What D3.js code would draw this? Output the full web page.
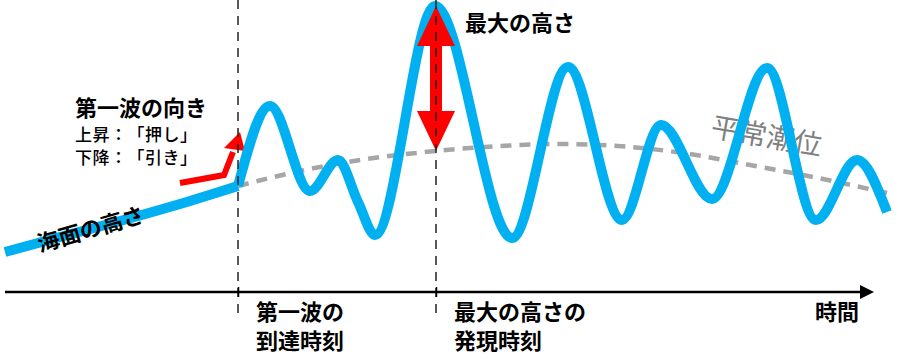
<!DOCTYPE html>
<html><head><meta charset="utf-8">
<script src="https://cdn.jsdelivr.net/npm/d3@7"></script>
<style>
html,body{margin:0;padding:0;background:#fff;}
svg{display:block;font-family:"Noto Sans CJK JP","Noto Sans",sans-serif;text-spacing-trim:space-all;}
</style></head>
<body><svg id="c" width="899" height="361"></svg>
<script>
// time (horizontal units) and sea-level height (units above the time axis)
const leadTime  = [5, 60, 120, 180, 238];
const leadLevel = [40, 55, 71, 88, 106];
const waveTime  = [238, 270, 310, 338, 358, 375, 435, 512, 568, 622, 661, 712, 767, 816, 857, 887];
const waveLevel = [106, 186, 101, 132, 90, 57, 286, 54, 225, 72, 167, 93, 224, 72, 132, 80];
const tideTime  = [238, 300, 360, 436, 500, 560, 600, 683, 750, 813, 887];
const tideLevel = [106, 121, 132, 141, 146, 148, 147, 139, 127, 115, 99];
const eventTimes = [238, 436];
const eventLabels = [["第一波の", "到達時刻"], ["最大の高さの", "発現時刻"]];
const axisLabel = "時間";
const maxLabel = "最大の高さ";
const seaLabel = "海面の高さ";
const tideLabel = "平常潮位";
const dirTitle = "第一波の向き";
const dirLines = ["上昇：「押し」", "下降：「引き」"];
const maxHeight = 286, tideAtMax = 141;

const svg = d3.select("#c");
const x = d3.scaleLinear().domain([0, 899]).range([0, 899]);
const y = d3.scaleLinear().domain([0, 292]).range([292, 0]);

const blue = "#00b0f0", red = "#ff0000";
const lineGen = d3.line().x(d => x(d[0])).y(d => y(d[1]));

// tide (dashed gray)
svg.append("path")
  .attr("d", lineGen.curve(d3.curveMonotoneX)(d3.zip(tideTime, tideLevel)))
  .attr("fill", "none").attr("stroke", "#a6a6a6").attr("stroke-width", 4.5)
  .attr("stroke-dasharray", "11,8");

svg.append("text").text(tideLabel)
  .attr("transform", `translate(${x(765)},${y(146)}) rotate(10)`)
  .attr("text-anchor", "middle").attr("font-size", 28).attr("fill", "#808080");

// first wave direction arrow
const dirPts = [[180, 109], [224, 117], [233, 140]];
svg.append("path")
  .attr("d", lineGen.curve(d3.curveLinear)(dirPts))
  .attr("fill", "none").attr("stroke", red).attr("stroke-width", 6).attr("stroke-linejoin", "miter");
svg.append("path")
  .attr("d", lineGen.curve(d3.curveLinear)([[240, 160], [224, 144], [245, 141]]) + "Z")
  .attr("fill", red);

// sea level: lead-in and wave
svg.append("path")
  .attr("d", lineGen.curve(d3.curveMonotoneX)(d3.zip(leadTime, leadLevel)))
  .attr("fill", "none").attr("stroke", blue).attr("stroke-width", 10);
svg.append("path")
  .attr("d", lineGen.curve(d3.curveMonotoneX)(d3.zip(waveTime, waveLevel)))
  .attr("fill", "none").attr("stroke", blue).attr("stroke-width", 10).attr("stroke-linejoin", "round");

// max height double arrow
const cx = x(eventTimes[1]), yTop = y(maxHeight), yBot = y(tideAtMax);
const hw = 19, sw = 6, hl = 40;
svg.append("path")
  .attr("d", `M${cx},${yTop} L${cx + hw},${yTop + hl} L${cx + sw},${yTop + hl} L${cx + sw},${yBot - hl} L${cx + hw},${yBot - hl} L${cx},${yBot} L${cx - hw},${yBot - hl} L${cx - sw},${yBot - hl} L${cx - sw},${yTop + hl} L${cx - hw},${yTop + hl} Z`)
  .attr("fill", red);

// vertical event lines
svg.selectAll("line.ev").data(eventTimes).join("line").attr("class", "ev")
  .attr("x1", d => x(d)).attr("x2", d => x(d)).attr("y1", 0).attr("y2", 318)
  .attr("stroke", "#222").attr("stroke-width", 1.5).attr("stroke-dasharray", "9,7");

// time axis
const ax = svg.append("g").attr("transform", `translate(0,${y(0)})`)
  .call(d3.axisBottom(x).tickValues(eventTimes).tickSizeOuter(0).tickSize(5).tickFormat(""));
ax.select(".domain").attr("d", `M${x(5)},0H${x(866)}`).attr("stroke", "#000").attr("stroke-width", 2.5);
ax.selectAll(".tick line").attr("y1", -5).attr("y2", 5).attr("stroke", "#000").attr("stroke-width", 1.5);
svg.append("path")
  .attr("d", `M${x(874)},${y(0)} L${x(860)},${y(0) - 7} L${x(860)},${y(0) + 7} Z`).attr("fill", "#000");

// event labels
eventTimes.forEach((t, i) => {
  const tx = svg.append("text").attr("x", x(t) + 18).attr("y", y(0) + 28)
    .attr("font-size", 22).attr("font-weight", "bold").attr("fill", "#000");
  eventLabels[i].forEach((s, j) => tx.append("tspan").attr("x", x(t) + 18).attr("dy", j ? 29 : 0).text(s));
});
svg.append("text").text(axisLabel).attr("x", x(815)).attr("y", y(0) + 28)
  .attr("font-size", 22).attr("font-weight", "bold");

svg.append("text").text(maxLabel).attr("x", x(465)).attr("y", 31)
  .attr("font-size", 22).attr("font-weight", "bold");

svg.append("text").text(seaLabel)
  .attr("transform", `translate(${x(40)},${y(40)}) rotate(-16)`)
  .attr("font-size", 22).attr("font-weight", "bold");

svg.append("text").text(dirTitle).attr("x", 75).attr("y", 116)
  .attr("font-size", 22).attr("font-weight", "bold");
dirLines.forEach((s, i) => svg.append("text").text(s).attr("x", 75).attr("y", 141 + i * 23)
  .attr("font-size", 17).attr("font-weight", 500)
  .attr("textLength", 122).attr("lengthAdjust", "spacing"));
</script></body></html>
